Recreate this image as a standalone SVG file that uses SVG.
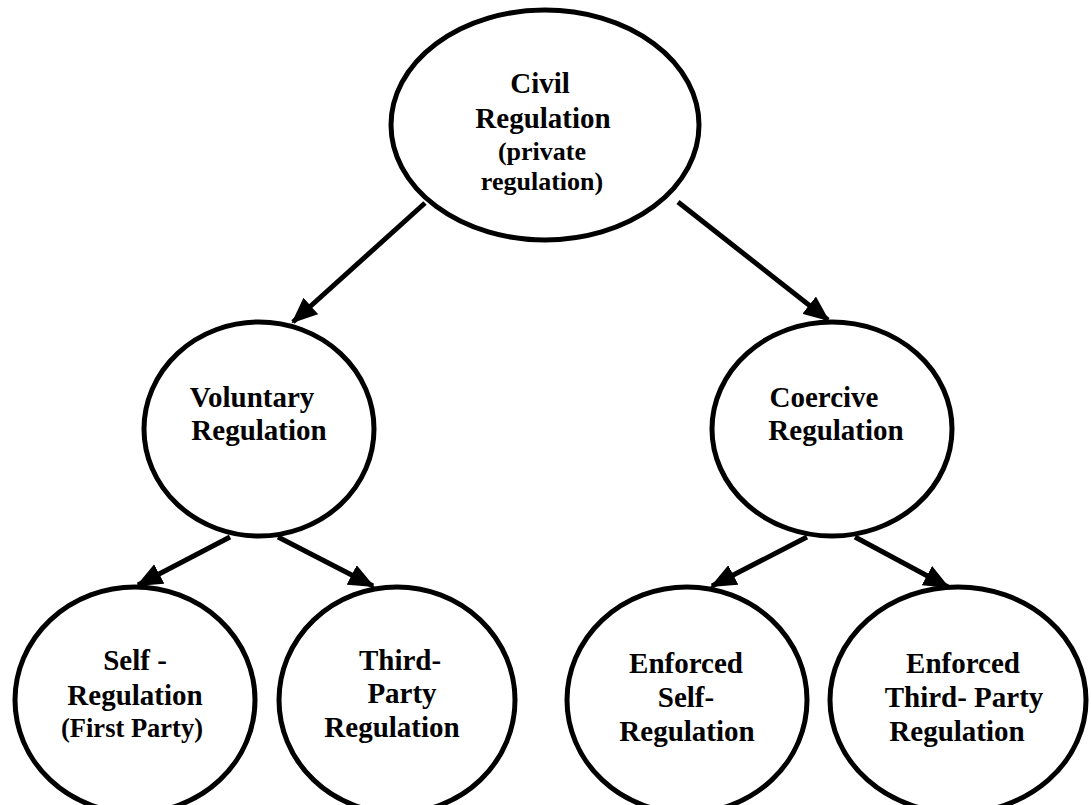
<svg xmlns="http://www.w3.org/2000/svg" width="1091" height="805" viewBox="0 0 1091 805">
<style>
.node ellipse { fill: #fff; stroke: #000; stroke-width: 5; }
text { font-family: "Liberation Serif", "Times New Roman", serif; font-weight: bold; font-size: 29px; fill: #000; text-anchor: middle; }
text.s { font-size: 26px; }
.conn line { stroke: #000; stroke-width: 5; marker-end: url(#ah); }
</style>
<defs>
<marker id="ah" markerUnits="userSpaceOnUse" markerWidth="26" markerHeight="22" viewBox="0 0 26 22" refX="24" refY="11" orient="auto">
<path d="M0,0 L26,11 L0,22 Z" fill="#000"/>
</marker>
</defs>
<rect width="1091" height="805" fill="#fff"/>
<g id="connectors" class="conn">
<line x1="425" y1="203" x2="293" y2="322"/>
<line x1="678" y1="202" x2="828" y2="320"/>
<line x1="230" y1="537" x2="138" y2="585"/>
<line x1="278" y1="537" x2="373" y2="586"/>
<line x1="807" y1="537" x2="712" y2="586"/>
<line x1="855" y1="537" x2="948" y2="587"/>
</g>
<g id="civil" class="node">
<ellipse cx="545" cy="125" rx="154" ry="115"/>
<text x="540" y="93">Civil</text>
<text x="543" y="128">Regulation</text>
<text class="s" x="542" y="160">(private</text>
<text class="s" x="542" y="190">regulation)</text>
</g>
<g id="voluntary" class="node">
<ellipse cx="259" cy="429" rx="115" ry="107"/>
<text x="252" y="407">Voluntary</text>
<text x="259" y="440">Regulation</text>
</g>
<g id="coercive" class="node">
<ellipse cx="832" cy="429" rx="120" ry="107"/>
<text x="824" y="407">Coercive</text>
<text x="836" y="440">Regulation</text>
</g>
<g id="self" class="node">
<ellipse cx="135" cy="700" rx="120" ry="113"/>
<text x="135" y="670">Self -</text>
<text x="135" y="705">Regulation</text>
<text class="s" x="132" y="737" style="font-size:26.5px">(First Party)</text>
</g>
<g id="thirdparty" class="node">
<ellipse cx="397" cy="700" rx="118" ry="113"/>
<text x="400" y="670">Third-</text>
<text x="402" y="703">Party</text>
<text x="392" y="737">Regulation</text>
</g>
<g id="enforcedself" class="node">
<ellipse cx="687" cy="700" rx="120" ry="113"/>
<text x="686" y="673">Enforced</text>
<text x="686" y="707">Self-</text>
<text x="687" y="741">Regulation</text>
</g>
<g id="enforcedthird" class="node">
<ellipse cx="958" cy="700" rx="128" ry="113"/>
<text x="963" y="673">Enforced</text>
<text x="964" y="707">Third- Party</text>
<text x="957" y="741">Regulation</text>
</g>
</svg>
